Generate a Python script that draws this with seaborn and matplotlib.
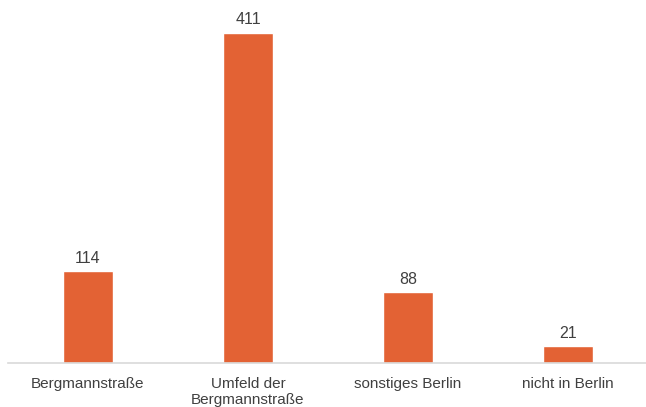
import matplotlib
matplotlib.use("Agg")
import matplotlib.pyplot as plt
import seaborn as sns
import pandas as pd

categories = ["Bergmannstraße", "Umfeld der\nBergmannstraße", "sonstiges Berlin", "nicht in Berlin"]
values = [114, 411, 88, 21]

sns.set_theme(style="white")
plt.rcParams['font.family'] = ['Liberation Sans', 'DejaVu Sans']

df = pd.DataFrame({"cat": categories, "val": values})
fig = plt.figure(figsize=(6.46, 4.07), dpi=100)
ax = fig.add_axes([8/646, 44/407, 640/646, 363/407])
sns.barplot(data=df, x="cat", y="val", color="#E36234", width=0.31, saturation=1, ax=ax)
ax.set_xlim(-0.5, 3.5)
ax.set_ylim(0, 452)
for i, v in enumerate(values):
    ax.text(i, v + 7, str(v), ha="center", va="bottom", fontsize=11.5, color="#404040")
ax.set_xlabel("")
ax.set_ylabel("")
ax.set_yticks([])
for s in ["top", "right", "left"]:
    ax.spines[s].set_visible(False)
ax.spines["bottom"].set_color("#D9D9D9")
ax.spines["bottom"].set_linewidth(1.2)
ax.tick_params(axis="x", length=0, pad=10, labelsize=11, labelcolor="#404040")
for t in ax.get_xticklabels():
    t.set_linespacing(1.2)
fig.savefig("out.png", dpi=100)
